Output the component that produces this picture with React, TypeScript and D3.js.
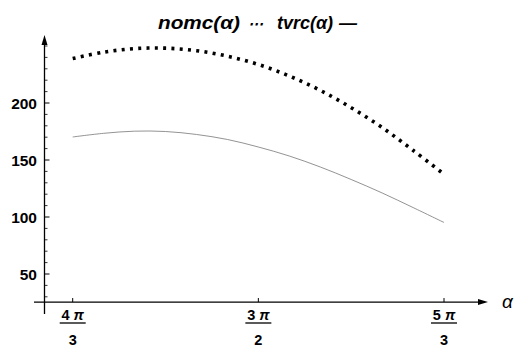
import React from "react";
import * as d3 from "d3";

const alphaValues = [4.1888, 4.2761, 4.3633, 4.4506, 4.5379, 4.6251, 4.7124, 4.7997, 4.8869, 4.9742, 5.0615, 5.1487, 5.236];
const nomcValues = [239.0, 244.6, 247.7, 248.1, 245.9, 241.1, 233.8, 223.7, 211.1, 195.9, 178.5, 158.5, 137.5];
const tvrcValues = [170.2, 173.4, 175.3, 175.0, 172.4, 168.0, 161.4, 153.5, 143.9, 132.9, 121.1, 108.3, 95.2];
const xTickValues = [(4 * Math.PI) / 3, (3 * Math.PI) / 2, (5 * Math.PI) / 3];
const xTickNums = ["4", "3", "5"];
const xTickDens = ["3", "2", "3"];
const yMajorTicks = [50, 100, 150, 200];
const yMinorTicks = [30, 40, 60, 70, 80, 90, 110, 120, 130, 140, 160, 170, 180, 190, 210, 220, 230, 240, 250];

const W = 515;
const H = 347;
const FONT = "'Liberation Sans', Arial, sans-serif";

export default function App() {
  const x = d3.scaleLinear().domain([(4 * Math.PI) / 3, (5 * Math.PI) / 3]).range([72.7, 444]);
  const y = d3.scaleLinear().domain([0, 250]).range([331, 46]);

  const originA = x.invert(44.5);
  const originV = 25.4;
  const ax = x(originA);
  const ay = y(originV);

  const pts = alphaValues.map((a, i) => ({ a, n: nomcValues[i], t: tvrcValues[i] }));
  const lineN = d3.line<any>().x((d) => x(d.a)).y((d) => y(d.n)).curve(d3.curveCatmullRom);
  const lineT = d3.line<any>().x((d) => x(d.a)).y((d) => y(d.t)).curve(d3.curveCatmullRom);

  const yTop = 35;
  const yBottom = 314;
  const xLeft = 34;
  const xRight = 488;

  const titleProps = {
    fontFamily: FONT,
    fontWeight: "bold" as const,
    fontStyle: "italic" as const,
    fontSize: 18,
    fill: "#000",
  };

  return (
    <svg width={W} height={H} style={{ position: "absolute", left: 0, top: 0, background: "#fff" }}>
      <rect x={0} y={0} width={W} height={H} fill="#fff" />
      {/* title */}
      <text x={158} y={29} textLength={82} lengthAdjust="spacingAndGlyphs" {...titleProps}>
        nomc(α)
      </text>
      <text x={255} y={29} textAnchor="middle" {...titleProps} fontSize={15}>
        ⋯
      </text>
      <text x={277} y={29} textLength={56} lengthAdjust="spacingAndGlyphs" {...titleProps}>
        tvrc(α)
      </text>
      <text x={339} y={29} textLength={18} lengthAdjust="spacingAndGlyphs" {...titleProps}>
        —
      </text>

      {/* curves */}
      <path d={lineT(pts) || ""} fill="none" stroke="#777" strokeWidth={0.8} />
      <path d={lineN(pts) || ""} fill="none" stroke="#000" strokeWidth={3.6} strokeDasharray="3 5.3" />

      {/* y axis */}
      <line x1={ax} x2={ax} y1={yTop + 8} y2={yBottom} stroke="#000" strokeWidth={1.3} />
      <path d={`M${ax},${yTop} L${ax - 3},${yTop + 10} L${ax + 3},${yTop + 10} Z`} fill="#000" />
      {yMajorTicks.map((v) => (
        <g key={"M" + v}>
          <line x1={ax} x2={ax + 5} y1={y(v)} y2={y(v)} stroke="#000" strokeWidth={1} />
          <text x={37} y={y(v)} dy="0.36em" textAnchor="end" fontFamily={FONT} fontWeight="bold" fontSize={15.5} fill="#000">
            {v}
          </text>
        </g>
      ))}
      {yMinorTicks.map((v) => (
        <line key={"m" + v} x1={ax} x2={ax + 3} y1={y(v)} y2={y(v)} stroke="#000" strokeWidth={0.8} />
      ))}

      {/* x axis */}
      <line x1={xLeft} x2={xRight - 8} y1={ay} y2={ay} stroke="#000" strokeWidth={1.3} />
      <path d={`M${xRight},${ay} L${xRight - 10},${ay - 3} L${xRight - 10},${ay + 3} Z`} fill="#000" />
      <text x={502} y={ay} dy="0.33em" fontFamily={FONT} fontStyle="italic" fontSize={19} fill="#000">
        α
      </text>
      {xTickValues.map((v, i) => (
        <g key={"x" + i}>
          <line x1={x(v)} x2={x(v)} y1={ay} y2={ay - 4} stroke="#000" strokeWidth={1} />
          <text x={x(v)} y={320} textAnchor="middle" fontFamily={FONT} fontWeight="bold" fontSize={14.5} fill="#000">
            {xTickNums[i]}
            <tspan fontStyle="italic"> π</tspan>
          </text>
          <line x1={x(v) - 13} x2={x(v) + 13} y1={323} y2={323} stroke="#000" strokeWidth={1.3} />
          <text x={x(v)} y={345} textAnchor="middle" fontFamily={FONT} fontWeight="bold" fontSize={14.5} fill="#000">
            {xTickDens[i]}
          </text>
        </g>
      ))}
    </svg>
  );
}
